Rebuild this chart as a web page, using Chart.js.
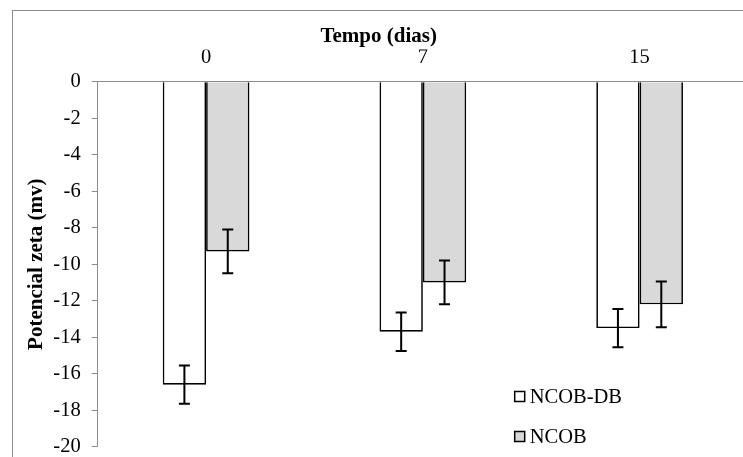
<!DOCTYPE html>
<html>
<head>
<meta charset="utf-8">
<script src="https://cdn.jsdelivr.net/npm/chart.js@4/dist/chart.umd.min.js"></script>
<style>
	html, body { margin: 0; padding: 0; background: #fff; }
	body { width: 743px; height: 457px; overflow: hidden; position: relative; }
	#frame {
		position: absolute; left: 12px; top: 10px;
		width: 800px; height: 520px;
		border: 1px solid #8c8c8c; box-sizing: border-box;
	}
	#zeta { position: absolute; left: 0; top: 0; }
</style>
</head>
<body>
<div id="frame"></div>
<canvas id="zeta" width="762" height="470"></canvas>
<script>
	// Potencial zeta (mv) por tempo (dias)
	const dias      = [ '0', '7', '15' ];
	const ncobDb    = [ -16.6, -13.7, -13.5 ];
	const ncobDbErr = [ 1.05, 1.05, 1.05 ];
	const ncob      = [ -9.3, -11.0, -12.2 ];
	const ncobErr   = [ 1.2, 1.2, 1.25 ];

( function () {
	'use strict';

	const BLACK = '#000000';
	const AXIS  = '#8c8c8c';
	const GRAY  = '#d9d9d9';
	const WHITE = '#ffffff';
	const FONT  = "'Liberation Serif', 'Times New Roman', serif";

	Chart.defaults.font.family = FONT;
	Chart.defaults.font.size   = 20;
	Chart.defaults.color       = BLACK;

	// -----------------------------------------------------------------------
	// Error bars (± value) drawn on top of each bar
	// -----------------------------------------------------------------------
	const errorBars = {
		id: 'errorBars',
		afterDatasetsDraw( chart ) {
			const { ctx } = chart;
			const y = chart.scales.y;
			ctx.save();
			ctx.strokeStyle = BLACK;
			ctx.lineWidth   = 2;
			chart.data.datasets.forEach( ( ds, i ) => {
				const meta = chart.getDatasetMeta( i );
				meta.data.forEach( ( bar, j ) => {
					const v   = ds.data[ j ];
					const e   = ds.errors[ j ];
					const top = y.getPixelForValue( v + e );
					const bot = y.getPixelForValue( v - e );
					ctx.beginPath();
					ctx.moveTo( bar.x, top );
					ctx.lineTo( bar.x, bot );
					ctx.moveTo( bar.x - 5.5, top );
					ctx.lineTo( bar.x + 5.5, top );
					ctx.moveTo( bar.x - 5.5, bot );
					ctx.lineTo( bar.x + 5.5, bot );
					ctx.stroke();
				} );
			} );
			ctx.restore();
		},
	};

	// -----------------------------------------------------------------------
	// Legend inside the plot, lower right
	// -----------------------------------------------------------------------
	const innerLegend = {
		id: 'innerLegend',
		afterDraw( chart ) {
			const { ctx, chartArea } = chart;
			const x0 = chartArea.left + 417;
			ctx.save();
			ctx.font         = '20.5px ' + FONT;
			ctx.textBaseline = 'middle';
			ctx.textAlign    = 'left';
			chart.data.datasets.forEach( ( ds, i ) => {
				const cy = 396.5 + i * 40;
				ctx.fillStyle   = ds.backgroundColor;
				ctx.strokeStyle = BLACK;
				ctx.lineWidth   = 1.5;
				ctx.fillRect( x0, cy - 5, 10, 10 );
				ctx.strokeRect( x0, cy - 5, 10, 10 );
				ctx.fillStyle = BLACK;
				ctx.fillText( ds.label, x0 + 15, cy + 1 );
			} );
			ctx.restore();
		},
	};

	new Chart( document.getElementById( 'zeta' ), {
		type: 'bar',
		data: {
			labels  : dias,
			datasets: [
				{
					label          : 'NCOB-DB',
					data           : ncobDb,
					errors         : ncobDbErr,
					backgroundColor: WHITE,
					borderColor    : BLACK,
					borderWidth    : 1.7,
				},
				{
					label          : 'NCOB',
					data           : ncob,
					errors         : ncobErr,
					backgroundColor: GRAY,
					borderColor    : BLACK,
					borderWidth    : 1.7,
				},
			],
		},
		options: {
			responsive: false,
			animation : false,
			categoryPercentage: 0.4,
			barPercentage     : 1.0,
			layout: { padding: { left: 9.4, right: 14, top: 0, bottom: 22.3 } },
			plugins: {
				legend : { display: false },
				tooltip: { enabled: false },
				title  : {
					display: true,
					text   : 'Tempo (dias)',
					font   : { size: 21, weight: 'bold' },
					padding: { top: 24.4, bottom: 0 },
				},
			},
			scales: {
				x: {
					position: 'top',
					grid    : { display: false, drawTicks: false },
					border  : { color: AXIS, width: 1 },
					ticks   : { padding: 12, font: { size: 20.5 } },
					afterFit: ( s ) => { s.height = 32.1; },
				},
				y: {
					min: -20,
					max: 0,
					grid: {
						drawOnChartArea: false,
						drawTicks      : true,
						tickLength     : 6,
						color          : AXIS,
					},
					border: { color: AXIS, width: 1 },
					ticks : { stepSize: 2, padding: 11, font: { size: 20.5 } },
					title : {
						display: true,
						text   : 'Potencial zeta (mv)',
						font   : { size: 21, weight: 'bold' },
						padding: { top: 15, bottom: 0 },
					},
					afterFit: ( s ) => { s.width = 88.3; },
				},
			},
		},
		plugins: [ errorBars, innerLegend ],
	} );

} )();
</script>
</body>
</html>
